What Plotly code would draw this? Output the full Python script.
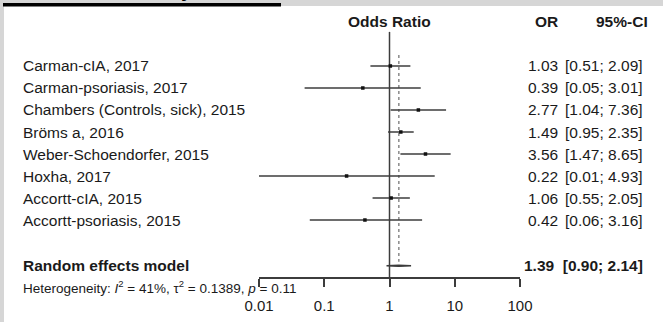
import plotly.graph_objects as go

# ---------------- data ----------------
studies = [
    "Carman-cIA, 2017",
    "Carman-psoriasis, 2017",
    "Chambers (Controls, sick), 2015",
    "Bröms a, 2016",
    "Weber-Schoendorfer, 2015",
    "Hoxha, 2017",
    "Accortt-cIA, 2015",
    "Accortt-psoriasis, 2015",
]
odds_ratio = [1.03, 0.39, 2.77, 1.49, 3.56, 0.22, 1.06, 0.42]
ci_lower = [0.51, 0.05, 1.04, 0.95, 1.47, 0.01, 0.55, 0.06]
ci_upper = [2.09, 3.01, 7.36, 2.35, 8.65, 4.93, 2.05, 3.16]
or_labels = ["1.03", "0.39", "2.77", "1.49", "3.56", "0.22", "1.06", "0.42"]
ci_labels = ["[0.51; 2.09]", "[0.05; 3.01]", "[1.04; 7.36]", "[0.95; 2.35]",
             "[1.47; 8.65]", "[0.01; 4.93]", "[0.55; 2.05]", "[0.06; 3.16]"]

pooled_label = "Random effects model"
pooled_or = 1.39
pooled_lower = 0.90
pooled_upper = 2.14
pooled_text = "1.39  [0.90; 2.14]"
heterogeneity = "Heterogeneity: <i>I</i><sup>2</sup> = 41%, τ<sup>2</sup> = 0.1389, <i>p</i> = 0.11"

tick_vals = [0.01, 0.1, 1, 10, 100]
tick_text = ["0.01", "0.1", "1", "10", "100"]
title_text = "Malformations Majores"

# ---------------- layout helpers ----------------
W, H = 663, 322
L, R, T, B = 259, 143, 20, 45
plot_w = W - L - R
plot_h = H - T - B
row_y = list(range(len(studies)))
pooled_y = 9.08
y_top = -2.09
y_bot = 9.59

def px_x(p):
    return (p - L) / plot_w

def px_y(p):
    return (H - B - p) / plot_h

FONT = "Arial, Liberation Sans, sans-serif"
TXT = "#1a1a1a"
LINE = "#3c3c3c"

fig = go.Figure()

# reference line at OR = 1
fig.add_trace(go.Scatter(x=[1, 1], y=[-1.55, y_bot], mode="lines",
                         line=dict(color=LINE, width=1.5), hoverinfo="skip",
                         showlegend=False, cliponaxis=False))
# pooled estimate dotted line
fig.add_trace(go.Scatter(x=[pooled_or, pooled_or], y=[-0.5, 8.9], mode="lines",
                         line=dict(color="#8a8a8a", width=1.5, dash="dot"),
                         hoverinfo="skip", showlegend=False))

# CI lines
xs, ys = [], []
for lo, hi, y in zip(ci_lower, ci_upper, row_y):
    xs += [lo, hi, None]
    ys += [y, y, None]
fig.add_trace(go.Scatter(x=xs, y=ys, mode="lines",
                         line=dict(color=LINE, width=1.5),
                         hoverinfo="skip", showlegend=False, cliponaxis=False))
# point estimates
fig.add_trace(go.Scatter(x=odds_ratio, y=row_y, mode="markers",
                         marker=dict(symbol="square", size=3.5, color="#111111"),
                         hoverinfo="skip", showlegend=False))

# pooled diamond (very flat)
dh = 0.02
fig.add_trace(go.Scatter(x=[pooled_lower, pooled_or, pooled_upper, pooled_or, pooled_lower],
                         y=[pooled_y, pooled_y - dh, pooled_y, pooled_y + dh, pooled_y],
                         mode="lines", fill="toself", fillcolor=LINE,
                         line=dict(color=LINE, width=1.5),
                         hoverinfo="skip", showlegend=False))

ann = []
# headers
ann.append(dict(x=px_x(389.5), y=-2, xref="paper", yref="y", text="<b>Odds Ratio</b>",
                showarrow=False, xanchor="center", yanchor="middle",
                font=dict(size=15.5, color=TXT, family=FONT)))
ann.append(dict(x=px_x(560), y=-2, xref="paper", yref="y", text="<b>OR</b>",
                showarrow=False, xanchor="right", yanchor="middle",
                font=dict(size=15.5, color=TXT, family=FONT)))
ann.append(dict(x=px_x(650), y=-2, xref="paper", yref="y", text="<b>95%-CI</b>",
                showarrow=False, xanchor="right", yanchor="middle",
                font=dict(size=15.5, color=TXT, family=FONT)))

for name, o, ci, y in zip(studies, or_labels, ci_labels, row_y):
    ann.append(dict(x=px_x(21), y=y, xref="paper", yref="y", text=name,
                    showarrow=False, xanchor="left", yanchor="middle",
                    font=dict(size=15.5, color=TXT, family=FONT)))
    ann.append(dict(x=px_x(560), y=y, xref="paper", yref="y", text=o,
                    showarrow=False, xanchor="right", yanchor="middle",
                    font=dict(size=15.5, color=TXT, family=FONT)))
    ann.append(dict(x=px_x(645), y=y, xref="paper", yref="y", text=ci,
                    showarrow=False, xanchor="right", yanchor="middle",
                    font=dict(size=15.5, color=TXT, family=FONT)))

ann.append(dict(x=px_x(21), y=pooled_y, xref="paper", yref="y",
                text="<b>" + pooled_label + "</b>",
                showarrow=False, xanchor="left", yanchor="middle",
                font=dict(size=15.5, color=TXT, family=FONT)))
ann.append(dict(x=px_x(645), y=pooled_y, xref="paper", yref="y",
                text="<b>" + pooled_text + "</b>",
                showarrow=False, xanchor="right", yanchor="middle",
                font=dict(size=15.5, color=TXT, family=FONT)))
ann.append(dict(x=px_x(21), y=px_y(287), xref="paper", yref="paper",
                text=heterogeneity,
                showarrow=False, xanchor="left", yanchor="middle",
                font=dict(size=13.5, color=TXT, family=FONT)))
# cut-off title at top
ann.append(dict(x=px_x(2), y=px_y(3), xref="paper", yref="paper",
                text="<b>" + title_text + "</b>",
                showarrow=False, xanchor="left", yanchor="bottom",
                font=dict(size=21, color="#000000", family=FONT)))

shapes = [
    # gray frame: top band and left band
    dict(type="rect", xref="paper", yref="paper", x0=px_x(0), x1=px_x(W),
         y0=px_y(0), y1=px_y(6), fillcolor="#d6d6d6", line=dict(width=0), layer="below"),
    dict(type="rect", xref="paper", yref="paper", x0=px_x(0), x1=px_x(4),
         y0=px_y(0), y1=px_y(H), fillcolor="#d6d6d6", line=dict(width=0), layer="below"),
    # title underline
    dict(type="rect", xref="paper", yref="paper", x0=px_x(3), x1=px_x(281),
         y0=px_y(3), y1=px_y(6.5), fillcolor="#000000", line=dict(width=0), layer="above"),
]

fig.update_layout(
    width=W, height=H,
    margin=dict(l=L, r=R, t=T, b=B, pad=0, autoexpand=False),
    paper_bgcolor="white", plot_bgcolor="rgba(0,0,0,0)",
    showlegend=False,
    annotations=ann, shapes=shapes,
    xaxis=dict(type="log", range=[-2, 2], showgrid=False, zeroline=False,
               automargin=False,
               showline=True, linecolor=LINE, linewidth=1.5,
               ticks="outside", ticklen=8, tickwidth=1.5, tickcolor=LINE,
               tickvals=tick_vals, ticktext=tick_text, ticklabelstandoff=6,
               tickfont=dict(size=15, color=TXT, family=FONT), fixedrange=True),
    yaxis=dict(range=[y_bot, y_top], visible=False, showgrid=False,
               automargin=False, zeroline=False, fixedrange=True),
)

fig.write_html("out.html", config={"displayModeBar": False},
               post_script="document.body.style.margin='0';document.body.style.overflow='hidden';")
